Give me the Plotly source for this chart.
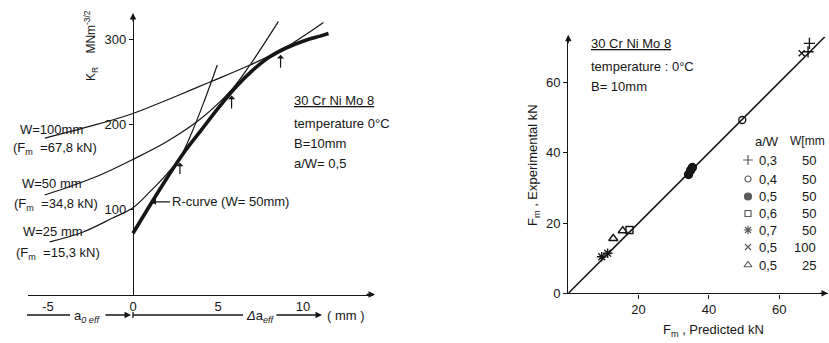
import plotly.graph_objects as go

W, H = 829, 343
FONT = "Liberation Sans, Arial, sans-serif"
INK = "#161616"
FS = 13


def fx(p):
    return p / W


def fy(p):
    return 1 - p / H


# ---------------- left panel data (K_R vs crack extension, mm / MNm^-3/2) ----
r_x = [0, 1, 2, 3, 4, 5, 6, 7, 8, 9, 10, 11, 11.5]
r_k = [72, 105, 137, 167, 193, 219, 243, 263, 279, 290, 298, 304, 307]

w25_x = [-4.9, -3, -1.2, 0, 1, 2, 2.76, 3.45, 4.2, 4.96]
w25_k = [62, 73, 90, 102, 121, 142, 161, 190, 228, 270]

w50_x = [-5.2, -4, -2, 0, 2, 4, 5.8, 6.88, 8.55]
w50_k = [117, 125, 140, 159, 180, 207, 241, 270, 321]

w100_x = [-5.18, -2.5, 0, 2.5, 4.53, 6.88, 8.84, 11.2]
w100_k = [184, 198, 213, 233, 250, 270, 289, 320]

inst_x = [2.76, 5.8, 8.68]
inst_tip = [155, 234, 282]
inst_tail = [140, 217, 265]

left_xticks = [-5, 0, 5, 10]
left_xlabels = ["-5", "0", "5", "10"]
left_yticks = [100, 200, 300]

# ---------------- right panel data (F_m experimental vs predicted, kN) -------
aw_labels = ["0,3", "0,4", "0,5", "0,6", "0,7", "0,5", "0,5"]
w_labels = ["50", "50", "50", "50", "50", "100", "25"]
symbols = ["cross-thin", "circle-open", "circle", "square-open",
           "asterisk", "x-thin", "triangle-up-open"]
pred = [[68.6, 68.2], [49.5], [34.2, 34.8, 35.3], [17.4], [9.5, 11.2], [66.4], [12.8, 15.5]]
expt = [[71.1, 68.7], [49.3], [33.8, 35.0, 35.8], [18.0], [10.4, 11.4], [68.3], [15.6, 17.8]]
sizes = [8, 7, 8, 7, 8, 6, 8]
legend_sizes = [7, 6, 7, 6, 7, 6, 7]

diag = [0, 73]
right_xticks = [20, 40, 60]
right_yticks = [0, 20, 40, 60]

fig = go.Figure()

# left panel curves
for xs, ks in [(w25_x, w25_k), (w50_x, w50_k), (w100_x, w100_k)]:
    fig.add_trace(go.Scatter(x=xs, y=ks, mode="lines", xaxis="x", yaxis="y",
                             line=dict(color=INK, width=1.2, shape="spline"),
                             hoverinfo="skip", showlegend=False))
fig.add_trace(go.Scatter(x=r_x, y=r_k, mode="lines", xaxis="x", yaxis="y",
                         line=dict(color=INK, width=3.6, shape="spline"),
                         hoverinfo="skip", showlegend=False))

# right panel
fig.add_trace(go.Scatter(x=diag, y=diag, mode="lines", xaxis="x2", yaxis="y2",
                         line=dict(color=INK, width=1.6),
                         hoverinfo="skip", showlegend=False))
for sym, xs, ys, s in zip(symbols, pred, expt, sizes):
    fig.add_trace(go.Scatter(x=xs, y=ys, mode="markers", xaxis="x2", yaxis="y2",
                             marker=dict(symbol=sym, size=s, color=INK,
                                         line=dict(color=INK, width=1.4)),
                             hoverinfo="skip", showlegend=False))

# custom legend markers (pixel overlay axis)
leg_rows = [160, 179, 196.5, 213.5, 230, 247, 265]
fig.add_trace(go.Scatter(x=[748] * len(symbols), y=leg_rows, mode="markers",
                         xaxis="x3", yaxis="y3",
                         marker=dict(symbol=symbols, size=legend_sizes, color=INK,
                                     line=dict(color=INK, width=1.2)),
                         hoverinfo="skip", showlegend=False))

axis_common = dict(showgrid=False, zeroline=False, showline=True, linecolor=INK,
                   linewidth=1.4, ticks="outside", ticklen=4, tickwidth=1.2,
                   tickcolor=INK, tickfont=dict(size=FS, color=INK, family=FONT),
                   fixedrange=True, automargin=False)

lx0, lx1 = 28, 373
x0px = 133
mmpx = 17.0
ky0, ky1 = 294.5, 15
kpx = 0.85

rx0, rx1 = 568.3, 828
ry0, ry1 = 293.3, 36.7
fpx = 3.515

fig.update_layout(
    template="none",
    width=W, height=H, margin=dict(l=0, r=0, t=0, b=0, pad=0),
    paper_bgcolor="white", plot_bgcolor="rgba(0,0,0,0)",
    font=dict(family=FONT, size=FS, color=INK),
    xaxis=dict(axis_common, domain=[fx(lx0), fx(lx1)],
               range=[(lx0 - x0px) / mmpx, (lx1 - x0px) / mmpx],
               tickvals=left_xticks, ticktext=left_xlabels, ticks="",
               anchor="y"),
    yaxis=dict(axis_common, domain=[fy(ky0), fy(ky1)],
               range=[0, (ky0 - ky1) / kpx], tickvals=left_yticks,
               anchor="free", position=fx(x0px)),
    xaxis2=dict(axis_common, domain=[fx(rx0), fx(rx1)],
                range=[0, (rx1 - rx0) / fpx], tickvals=right_xticks, anchor="y2"),
    yaxis2=dict(axis_common, domain=[fy(ry0), fy(ry1)],
                range=[0, (ry0 - ry1) / fpx], tickvals=right_yticks, anchor="x2"),
    xaxis3=dict(domain=[0, 1], range=[0, W], visible=False, fixedrange=True,
                anchor="y3", automargin=False),
    yaxis3=dict(domain=[0, 1], range=[H, 0], visible=False, fixedrange=True,
                anchor="x3", automargin=False),
)

ann = []


def text(px, py, s, anchor="left", size=FS, angle=0):
    ann.append(dict(x=fx(px), y=fy(py), xref="paper", yref="paper", text=s,
                    showarrow=False, xanchor=anchor, yanchor="middle",
                    textangle=angle, font=dict(size=size, family=FONT, color=INK)))


def arrow_px(hx, hy, tx, ty, head=2):
    ann.append(dict(x=fx(hx), y=fy(hy), xref="paper", yref="paper", text="",
                    showarrow=True, ax=tx - hx, ay=ty - hy, arrowhead=head,
                    arrowsize=1, arrowwidth=1.3, arrowcolor=INK))


shapes = []


def seg(x0, y0, x1, y1, w=1.3):
    shapes.append(dict(type="line", xref="paper", yref="paper", x0=fx(x0), y0=fy(y0),
                       x1=fx(x1), y1=fy(y1), line=dict(color=INK, width=w)))


# axis arrowheads
arrow_px(lx1 + 2, ky0, lx1 - 8, ky0)
arrow_px(x0px, ky1 - 2, x0px, ky1 + 8)
arrow_px(828, ry0, 818, ry0)
arrow_px(rx0, ry1 - 2, rx0, ry1 + 8)

# instability arrows
for xi, tip, tail in zip(inst_x, inst_tip, inst_tail):
    ann.append(dict(x=xi, y=tip, xref="x", yref="y", ax=xi, ay=tail,
                    axref="x", ayref="y", text="", showarrow=True, arrowhead=1,
                    arrowsize=1, arrowwidth=1.2, arrowcolor=INK))

# R-curve label
ann.append(dict(x=1.0, y=109, xref="x", yref="y", text="R-curve (W= 50mm)",
                showarrow=True, ax=80, ay=0, arrowhead=2, arrowsize=1,
                arrowwidth=1.2, arrowcolor=INK, font=dict(size=FS, family=FONT)))

# left panel labels
text(91, 46, "K<sub>R</sub>    MNm<sup>-3/2</sup>", anchor="center", size=12, angle=-90)
text(18, 129, "W=100mm")
text(11, 148, "(F<sub>m</sub>  =67,8 kN)")
text(20, 183, "W=50 mm")
text(12, 204, "(F<sub>m</sub>  =34,8 kN)")
text(21, 231, "W=25 mm")
text(14, 253, "(F<sub>m</sub>  =15,3 kN)")
text(292, 100, "<u>30 Cr Ni Mo 8</u>")
text(292, 123, "temperature 0°C")
text(292, 143, "B=10mm")
text(292, 163, "a/W= 0,5")

# bottom dimension row of the left panel
ROW = 315
seg(27, ROW, 70, ROW)
text(72, ROW + 1, "a<sub><i>0 eff</i></sub>")
arrow_px(131, ROW, 104, ROW)
seg(133, ROW - 3, 133, ROW + 3)
seg(133, ROW, 243, ROW)
text(244, ROW + 1, "<i>Δ</i>a<sub><i>eff</i></sub>")
arrow_px(322, ROW, 275, ROW)
text(325, ROW, "( mm )")

# right panel labels
text(533, 165, "F<sub>m</sub> , Experimental kN", anchor="center", angle=-90)
text(713, 330, "F<sub>m</sub> , Predicted kN", anchor="center")
text(589, 43, "<u>30 Cr Ni Mo 8</u>")
text(589, 67, "temperature : 0°C")
text(589, 86, "B= 10mm")
text(753, 141, "a/W")
text(827, 141, "W[mm", anchor="right", size=12)
for yy, a, w in zip(leg_rows, aw_labels, w_labels):
    text(757, yy, a)
    text(818, yy, w, anchor="right")

fig.update_layout(annotations=ann, shapes=shapes)

fig.write_html("out.html", config={"displayModeBar": False},
               post_script="document.body.style.margin='0';")
